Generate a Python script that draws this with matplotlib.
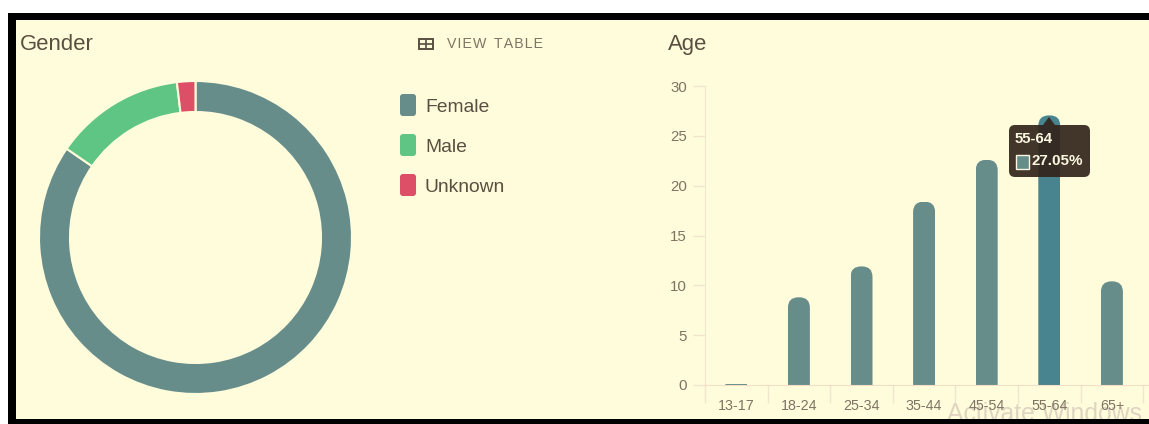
import matplotlib
matplotlib.use("Agg")
import matplotlib.pyplot as plt
from matplotlib.patches import FancyBboxPatch, Rectangle, Polygon
from matplotlib.transforms import IdentityTransform

gender_labels = ["Female", "Male", "Unknown"]
gender_values = [84.6, 13.5, 1.9]
gender_colors = ["#678d8b", "#5fc585", "#dc4f66"]
age_labels = ["13-17", "18-24", "25-34", "35-44", "45-54", "55-64", "65+"]
age_values = [0.15, 8.8, 11.9, 18.4, 22.6, 27.05, 10.4]
y_ticks = [0, 5, 10, 15, 20, 25, 30]

W, H = 1149, 424
BG = "#fffcdc"
TEXT = "#5a4f40"
MUTED = "#7f7363"
LINE = "#efe6cc"
plt.rcParams["font.family"] = ["Liberation Sans", "DejaVu Sans"]

fig = plt.figure(figsize=(W / 100, H / 100), dpi=100, facecolor="white")


def axes_px(x0, y0, x1, y1, **kw):
    return fig.add_axes([x0 / W, 1 - y1 / H, (x1 - x0) / W, (y1 - y0) / H], **kw)


# background panel
bg = axes_px(0, 0, W, H, zorder=0)
bg.set_xlim(0, W)
bg.set_ylim(H, 0)
bg.axis("off")
bg.add_patch(Rectangle((15, 19), W - 15, H - 19, fc=BG, ec="none"))
bg.text(947, 414, "Activate Windows", fontsize=17.8, color="#dfd4c0", va="center", ha="left")

# donut
dn = axes_px(195.5 - 158, 237.5 - 158, 195.5 + 158, 237.5 + 158, zorder=1)
dn.pie(gender_values, colors=gender_colors, startangle=90, counterclock=False,
       radius=156.5 / 158, wedgeprops=dict(width=31 / 158, edgecolor=BG, linewidth=1.5))
dn.set_xlim(-1, 1)
dn.set_ylim(-1, 1)

# bars
band = 62.6
ax = axes_px(705, 86, W, 385, zorder=1)
ax.patch.set_alpha(0)
ax.set_xlim(-0.5, (W - 705) / band - 0.5)
ax.set_ylim(0, 30)
positions = list(range(len(age_values)))
bars = ax.bar(positions, age_values, width=22 / band,
              color=["#47848f" if l == "55-64" else gender_colors[0] for l in age_labels])
fig.canvas.draw()
for b in bars:
    bb = b.get_window_extent()
    r = min(10.5, max(bb.height, 1))
    clip = FancyBboxPatch((bb.x0 + r, bb.y0 - 3 * r), bb.width - 2 * r, bb.height + 3 * r - r,
                          boxstyle=f"round,pad={r},rounding_size={r}",
                          transform=IdentityTransform())
    b.set_clip_path(clip)

ax.set_yticks(y_ticks)
ax.set_xticks([p + 0.5 for p in [-1] + positions])
ax.set_xticklabels([])
ax.set_xticks(positions, labels=age_labels, minor=True)
ax.tick_params(axis="x", which="major", length=13, color=LINE, width=1)
ax.tick_params(axis="x", which="minor", length=0, pad=10, labelsize=10.3, labelcolor=MUTED)
ax.tick_params(axis="y", length=9, color=LINE, width=1, pad=4, labelsize=10.8, labelcolor=MUTED)
for s in ["top", "right"]:
    ax.spines[s].set_visible(False)
ax.spines["left"].set_color(LINE)
ax.spines["bottom"].set_color("#f3dfc8")

# overlay in pixels
ov = axes_px(0, 0, W, H, zorder=5)
ov.set_xlim(0, W)
ov.set_ylim(H, 0)
ov.axis("off")
ov.patch.set_alpha(0)

ov.text(20, 44, "Gender", fontsize=15.9, color=TEXT, va="center", ha="left")
ov.text(668, 44.5, "Age", fontsize=15.9, color=TEXT, va="center", ha="left")
ov.text(447, 43.5, "V I E W  T A B L E".replace(" ", "\u200a").replace("\u200a\u200a", "  "),
        fontsize=10.2, color=MUTED, va="center", ha="left")

# table icon
ov.add_patch(Rectangle((419, 39), 14, 10, fc="none", ec=TEXT, lw=1.4))
ov.plot([419, 433], [44, 44], color=TEXT, lw=1.2)
ov.plot([426, 426], [39, 49], color=TEXT, lw=1.2)

# legend
for i, (lab, col) in enumerate(zip(gender_labels, gender_colors)):
    cy = 105 + 40 * i
    ov.add_patch(FancyBboxPatch((402, cy - 9), 12, 18, boxstyle="round,pad=2,rounding_size=3",
                                fc=col, ec="none"))
    ov.text(425, cy + 2, lab, fontsize=13.9, color=TEXT, va="center", ha="left")

# tooltip
ov.add_patch(FancyBboxPatch((1014, 130), 71, 42, boxstyle="round,pad=5,rounding_size=6",
                            fc="#33261c", ec="none", alpha=0.93))
ov.add_patch(Polygon([(1043, 125), (1049, 117), (1055, 125)], fc="#33261c", ec="none", alpha=0.93))
ov.text(1015, 139, "55-64", fontsize=10.8, color="#fbf6df", weight="bold", va="center", ha="left")
ov.add_patch(Rectangle((1016, 155), 13, 14, fc=gender_colors[0], ec="#fbf6df", lw=1))
ov.text(1032, 161, "27.05%", fontsize=10.9, color="#fbf6df", weight="bold", va="center", ha="left")

# frame over everything
ov.add_patch(Rectangle((8, 13), W - 8, 6.5, fc="black", ec="none", zorder=3))
ov.add_patch(Rectangle((8, 13), 7.5, H - 13, fc="black", ec="none", zorder=3))
ov.add_patch(Rectangle((8, 418.5), W - 8, 6, fc="black", ec="none", zorder=3))

fig.savefig("out.png", dpi=100, facecolor="white")
